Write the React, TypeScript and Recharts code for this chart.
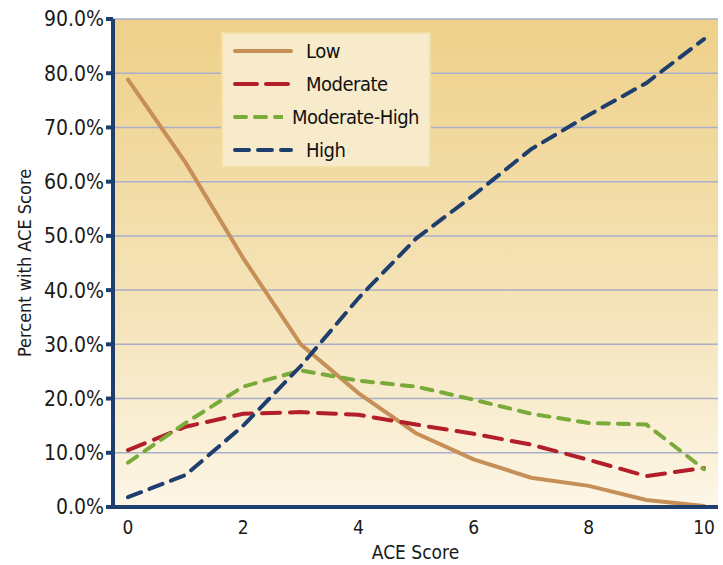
import React from "react";
import { CartesianGrid, Line, LineChart, XAxis, YAxis } from "recharts";

const SCORES = [0, 1, 2, 3, 4, 5, 6, 7, 8, 9, 10];
const LOW = [78.8, 63.5, 45.9, 30.0, 21.0, 13.6, 8.8, 5.4, 3.9, 1.3, 0.2];
const MODERATE = [10.5, 14.8, 17.2, 17.5, 17.0, 15.2, 13.5, 11.5, 8.7, 5.7, 7.2];
const MODERATE_HIGH = [8.2, 15.5, 22.2, 25.2, 23.3, 22.2, 19.8, 17.2, 15.5, 15.2, 7.0];
const HIGH = [1.8, 5.9, 15.0, 26.0, 38.5, 49.5, 57.5, 66.0, 72.3, 78.2, 86.3];
const Y_TICKS = [0, 10, 20, 30, 40, 50, 60, 70, 80, 90];
const X_TICKS = [0, 2, 4, 6, 8, 10];

const SERIES = [
  { key: "Low", color: "#C68F58", dash: undefined },
  { key: "Moderate", color: "#B21F28", dash: "18 10" },
  { key: "Moderate-High", color: "#7AAA3A", dash: "11 9" },
  { key: "High", color: "#1E3F6E", dash: "14 9" },
];

const data = SCORES.map((s, i) => ({
  score: s,
  Low: LOW[i],
  Moderate: MODERATE[i],
  "Moderate-High": MODERATE_HIGH[i],
  High: HIGH[i],
}));

const FONT = "'DejaVu Sans', sans-serif";
const TXT = { fontFamily: FONT, fontStretch: "condensed" as const };

function LegendBox() {
  return (
    <div
      style={{
        position: "absolute",
        left: 221,
        top: 32,
        background: "#F8EBCB",
        border: "2px solid #F3DFA8",
        padding: "0 10px 0 10px",
        ...TXT,
        fontSize: 20,
        color: "#111",
        width: 186,
        whiteSpace: "nowrap",
      }}
    >
      {SERIES.map((s) => (
        <div key={s.key} style={{ display: "flex", alignItems: "center", height: 33 }}>
          <svg width={64} height={10} style={{ marginRight: 9 }}>
            <line
              x1={2}
              y1={5}
              x2={58}
              y2={5}
              stroke={s.color}
              strokeWidth={4}
              strokeLinecap="round"
              strokeDasharray={s.key === "Moderate" ? "22 9" : s.dash}
            />
          </svg>
          <span style={{ letterSpacing: -0.5 }}>{s.key}</span>
        </div>
      ))}
    </div>
  );
}

export default function App() {
  return (
    <div style={{ position: "absolute", left: 0, top: 0, width: 723, height: 565, background: "#fff" }}>
      <LineChart width={723} height={565} data={data} margin={{ top: 19, right: 5, bottom: 28, left: 39 }}>
        <defs>
          <linearGradient id="bg" x1="0" y1="0" x2="0" y2="1">
            <stop offset="0%" stopColor="#EED089" />
            <stop offset="60%" stopColor="#F5E4BA" />
            <stop offset="100%" stopColor="#FDF6E6" />
          </linearGradient>
        </defs>
        <CartesianGrid vertical={false} fill="url(#bg)" stroke="#A9AEC9" strokeWidth={1.5} strokeOpacity={1} />
        <XAxis
          dataKey="score"
          type="number"
          domain={[0, 10]}
          ticks={X_TICKS}
          padding={{ left: 15, right: 14 }}
          stroke="#1E3F6E"
          strokeWidth={4}
          tickLine={false}
          tick={{ fontSize: 19, fill: "#1a1a1a", style: TXT }}
          tickMargin={8}
          label={{ value: "ACE Score", position: "bottom", offset: 9, fontSize: 19, fill: "#1a1a1a", style: TXT }}
        />
        <YAxis
          domain={[0, 90]}
          ticks={Y_TICKS}
          width={74}
          stroke="#1E3F6E"
          strokeWidth={4}
          tickSize={7}
          tickFormatter={(v: number) => v.toFixed(1) + "%"}
          tick={{ fontSize: 21, fill: "#1a1a1a", style: TXT }}
          label={{
            value: "Percent with ACE Score",
            angle: -90,
            position: "insideLeft",
            offset: -14,
            textAnchor: "middle",
            fontSize: 18,
            fill: "#1a1a1a",
            style: TXT,
          }}
        />
        {SERIES.map((s) => (
          <Line
            key={s.key}
            dataKey={s.key}
            type="linear"
            stroke={s.color}
            strokeWidth={4}
            strokeDasharray={s.dash}
            strokeLinecap="round"
            dot={false}
            activeDot={false}
            isAnimationActive={false}
          />
        ))}
      </LineChart>
      <LegendBox />
    </div>
  );
}
